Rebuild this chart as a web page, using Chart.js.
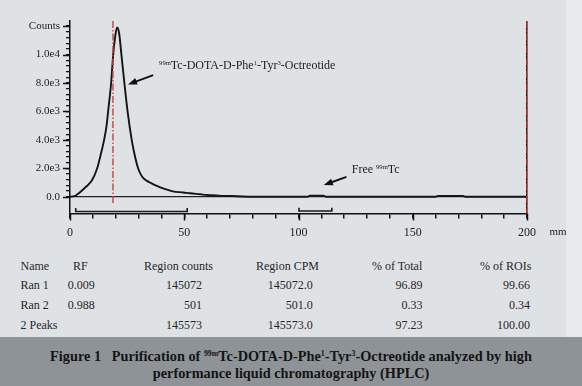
<!DOCTYPE html>
<html>
<head>
<meta charset="utf-8">
<script src="https://cdn.jsdelivr.net/npm/chart.js@4/dist/chart.umd.min.js"></script>
<style>
  html, body { margin: 0; padding: 0; }
  body {
    width: 582px; height: 386px; position: relative; overflow: hidden;
    background: #dfe2e4;
    font-family: "Liberation Serif", "DejaVu Serif", serif; color: #222;
  }
  #strip { position: absolute; left: 566px; top: 0; width: 16px; height: 337px; background: #e8eaeb; }
  #wrap { position: absolute; left: 0; top: 0; width: 582px; height: 250px; }
  .note { position: absolute; font-size: 12px; white-space: nowrap; color: #1c1c1c; line-height: 1; }
  .note sup, .cap sup { font-size: 55%; vertical-align: 0; position: relative; top: -0.6em; }
  .cell { position: absolute; font-size: 12px; white-space: nowrap; line-height: 14px; color: #262626; }
  #band { position: absolute; left: 0; top: 337px; width: 582px; height: 49px; background: #8e9397; }
  .cap { position: absolute; left: 0; width: 582px; text-align: center; font-weight: bold; font-size: 14.3px; color: #141414; white-space: pre; }
</style>
</head>
<body>
<div id="strip"></div>
<div id="wrap"><canvas id="hplc" width="582" height="250"></canvas></div>
<div class="note" id="lab0"></div>
<div class="note" id="lab1"></div>
<div id="table"></div>
<div id="band"></div>
<div class="cap" style="top:348px">Figure 1   Purification of <sup>99m</sup>Tc-DOTA-D-Phe<sup>1</sup>-Tyr<sup>3</sup>-Octreotide analyzed by high</div>
<div class="cap" style="top:365px">performance liquid chromatography (HPLC)</div>
<script>
// radio-chromatogram scan (distance in mm, counts)
const scanMm = [0, 2, 4.5, 7, 9.7, 11.9, 13.5, 15, 16, 16.7, 18, 18.9, 19.8, 20.6, 21.5, 22.5, 23.8, 25.2, 27, 28.5, 29.8, 30.8, 32, 33.5, 35, 38, 42, 45, 49.6, 52.5, 57, 60, 64, 67, 71, 75, 80, 104, 105, 111, 112, 160, 161, 172, 173, 200];
const scanCounts = [0, 40, 330, 700, 1170, 2000, 3000, 4050, 5000, 6020, 8000, 10000, 11300, 11900, 11500, 10000, 8000, 6000, 4000, 2800, 2000, 1620, 1320, 1130, 1000, 760, 520, 380, 300, 240, 170, 120, 90, 60, 50, 20, 0, 0, 80, 80, 0, 0, 50, 50, 0, 0];

// regions of interest and markers (mm)
const roiStart = [2.5, 100.2];
const roiEnd = [51.3, 114.6];
const markerMm = [18.8, 200];

// tick labels
const yMajor = [0, 2000, 4000, 6000, 8000, 10000, 12000];
const yLabels = ['0.0', '2.0e3', '4.0e3', '6.0e3', '8.0e3', '1.0e4', 'Counts'];
const xMajor = [0, 50, 100, 150, 200];

// table
const colHeads = ['Name', 'RF', 'Region counts', 'Region CPM', '% of Total', '% of ROIs'];
const rowNames = ['Ran 1', 'Ran 2', '2 Peaks'];
const rfValues = ['0.009', '0.988', ''];
const regionCounts = ['145072', '501', '145573'];
const regionCpm = ['145072.0', '501.0', '145573.0'];
const pctTotal = ['96.89', '0.33', '97.23'];
const pctRois = ['99.66', '0.34', '100.00'];

const Y_MIN = -1180, Y_MAX = 12360, Y_MINOR = 400;
const BRACKET_TOP = [-795, -770], BRACKET_LINE = [-1040, -1000];

const datasets = [];
datasets.push({
  data: scanMm.map((x, i) => ({ x: x, y: scanCounts[i] })),
  borderColor: '#141414', borderWidth: 1.9, pointRadius: 0,
  cubicInterpolationMode: 'monotone', order: 1
});
roiStart.forEach((s, i) => {
  datasets.push({
    data: [{ x: s, y: BRACKET_TOP[i] }, { x: s, y: BRACKET_LINE[i] }, { x: roiEnd[i], y: BRACKET_LINE[i] }, { x: roiEnd[i], y: BRACKET_TOP[i] }],
    borderColor: '#1a1a1a', borderWidth: 1.6, pointRadius: 0, tension: 0, order: 2
  });
});
markerMm.forEach((m, i) => {
  datasets.push({
    data: [{ x: m, y: Y_MAX }, { x: m, y: i === 0 ? -580 : Y_MIN }],
    borderColor: '#c8433a', borderWidth: 1.4, borderDash: [7, 2, 1.5, 2],
    pointRadius: 0, clip: false, order: 0
  });
});

const notes = [
  { id: 'lab0', html: '<sup>99m</sup>Tc-DOTA-D-Phe<sup>1</sup>-Tyr<sup>3</sup>-Octreotide', x: 39.0, y: 9300, tail: [36.4, 8550], tip: [25.4, 7900] },
  { id: 'lab1', html: 'Free <sup>99m</sup>Tc', x: 123.3, y: 1920, tail: [121, 1400], tip: [111.1, 820] }
];

function arrow(ctx, x1, y1, x2, y2) {
  const a = Math.atan2(y2 - y1, x2 - x1);
  ctx.save();
  ctx.strokeStyle = '#111'; ctx.fillStyle = '#111'; ctx.lineWidth = 2;
  ctx.beginPath(); ctx.moveTo(x1, y1);
  ctx.lineTo(x2 - 6 * Math.cos(a), y2 - 6 * Math.sin(a)); ctx.stroke();
  ctx.beginPath(); ctx.moveTo(x2, y2);
  ctx.lineTo(x2 - 9 * Math.cos(a) + 3.5 * Math.sin(a), y2 - 9 * Math.sin(a) - 3.5 * Math.cos(a));
  ctx.lineTo(x2 - 9 * Math.cos(a) - 3.5 * Math.sin(a), y2 - 9 * Math.sin(a) + 3.5 * Math.cos(a));
  ctx.closePath(); ctx.fill();
  ctx.restore();
}

const extras = {
  id: 'extras',
  afterDraw(chart) {
    const ctx = chart.ctx, xs = chart.scales.x, ys = chart.scales.y;
    ctx.save();
    ctx.strokeStyle = '#111'; ctx.lineWidth = 1.5;
    yMajor.forEach(v => {
      const y = Math.round(ys.getPixelForValue(v)) + 0.5;
      ctx.beginPath(); ctx.moveTo(ys.right - 7, y); ctx.lineTo(ys.right, y); ctx.stroke();
    });
    xMajor.forEach(v => {
      const x = Math.round(xs.getPixelForValue(v)) + 0.5;
      ctx.beginPath(); ctx.moveTo(x, xs.top); ctx.lineTo(x, xs.top + 7); ctx.stroke();
    });
    ctx.fillStyle = '#222'; ctx.font = '11px "Liberation Serif", serif';
    ctx.textAlign = 'center'; ctx.textBaseline = 'middle';
    ctx.fillText('mm', 558, 232);
    ctx.restore();
    notes.forEach(n => {
      arrow(ctx, xs.getPixelForValue(n.tail[0]), ys.getPixelForValue(n.tail[1]),
        xs.getPixelForValue(n.tip[0]), ys.getPixelForValue(n.tip[1]));
      const el = document.getElementById(n.id);
      el.innerHTML = n.html;
      el.style.left = xs.getPixelForValue(n.x) + 'px';
      el.style.top = (ys.getPixelForValue(n.y) - 6) + 'px';
    });
  }
};

new Chart(document.getElementById('hplc'), {
  type: 'line',
  data: { datasets: datasets },
  plugins: [extras],
  options: {
    responsive: false, animation: false, devicePixelRatio: 1,
    layout: { padding: { left: 0, top: 21, right: 55, bottom: 0 } },
    plugins: { legend: { display: false }, tooltip: { enabled: false } },
    scales: {
      x: {
        type: 'linear', min: 0, max: 200,
        afterFit: s => { s.height = 36.5; },
        ticks: {
          stepSize: 10, autoSkip: false, maxRotation: 0, padding: 7,
          color: '#222', font: { family: '"Liberation Serif", serif', size: 12 },
          callback: v => (xMajor.includes(v) ? String(v) : '')
        },
        grid: {
          drawOnChartArea: true, tickLength: 5, tickColor: '#111', tickWidth: 1.5,
          lineWidth: 1.5, color: c => (c.tick && c.tick.value === 200 ? '#1e1414' : 'rgba(0,0,0,0)')
        },
        border: { display: true, color: '#111', width: 1.5 }
      },
      y: {
        min: Y_MIN, max: Y_MAX,
        afterFit: s => { s.width = 70; },
        afterBuildTicks: s => {
          const t = [];
          for (let v = 0; v <= yMajor[yMajor.length - 1]; v += Y_MINOR) t.push({ value: v });
          s.ticks = t;
        },
        ticks: {
          autoSkip: false, padding: 6,
          color: '#222', font: { family: '"Liberation Serif", serif', size: 11 },
          callback: v => { const k = yMajor.indexOf(v); return k >= 0 ? yLabels[k] : ''; }
        },
        grid: {
          drawOnChartArea: true, tickLength: 4, tickColor: '#111', tickWidth: 1.3,
          lineWidth: 1.3, color: c => (c.tick && c.tick.value === 0 ? '#222' : 'rgba(0,0,0,0)')
        },
        border: { display: true, color: '#111', width: 1.5 }
      }
    }
  }
});

// result table
const colLeft = [20.5, 73, 144, 256, 372, 480];
const tops = [259, 278, 297.5, 318];
const tbl = document.getElementById('table');
function cell(text, top, left, right) {
  const d = document.createElement('div');
  d.className = 'cell';
  d.textContent = text;
  d.style.top = top + 'px';
  if (right !== undefined) { d.style.right = (582 - right) + 'px'; } else { d.style.left = left + 'px'; }
  tbl.appendChild(d);
}
colHeads.forEach((h, i) => cell(h, tops[0], colLeft[i]));
rowNames.forEach((n, r) => {
  const t = tops[r + 1];
  cell(n, t, 20.5);
  if (rfValues[r]) cell(rfValues[r], t, 67.7);
  cell(regionCounts[r], t, 0, 202);
  cell(regionCpm[r], t, 0, 312.7);
  cell(pctTotal[r], t, 0, 422.5);
  cell(pctRois[r], t, 0, 530);
});
</script>
</body>
</html>
